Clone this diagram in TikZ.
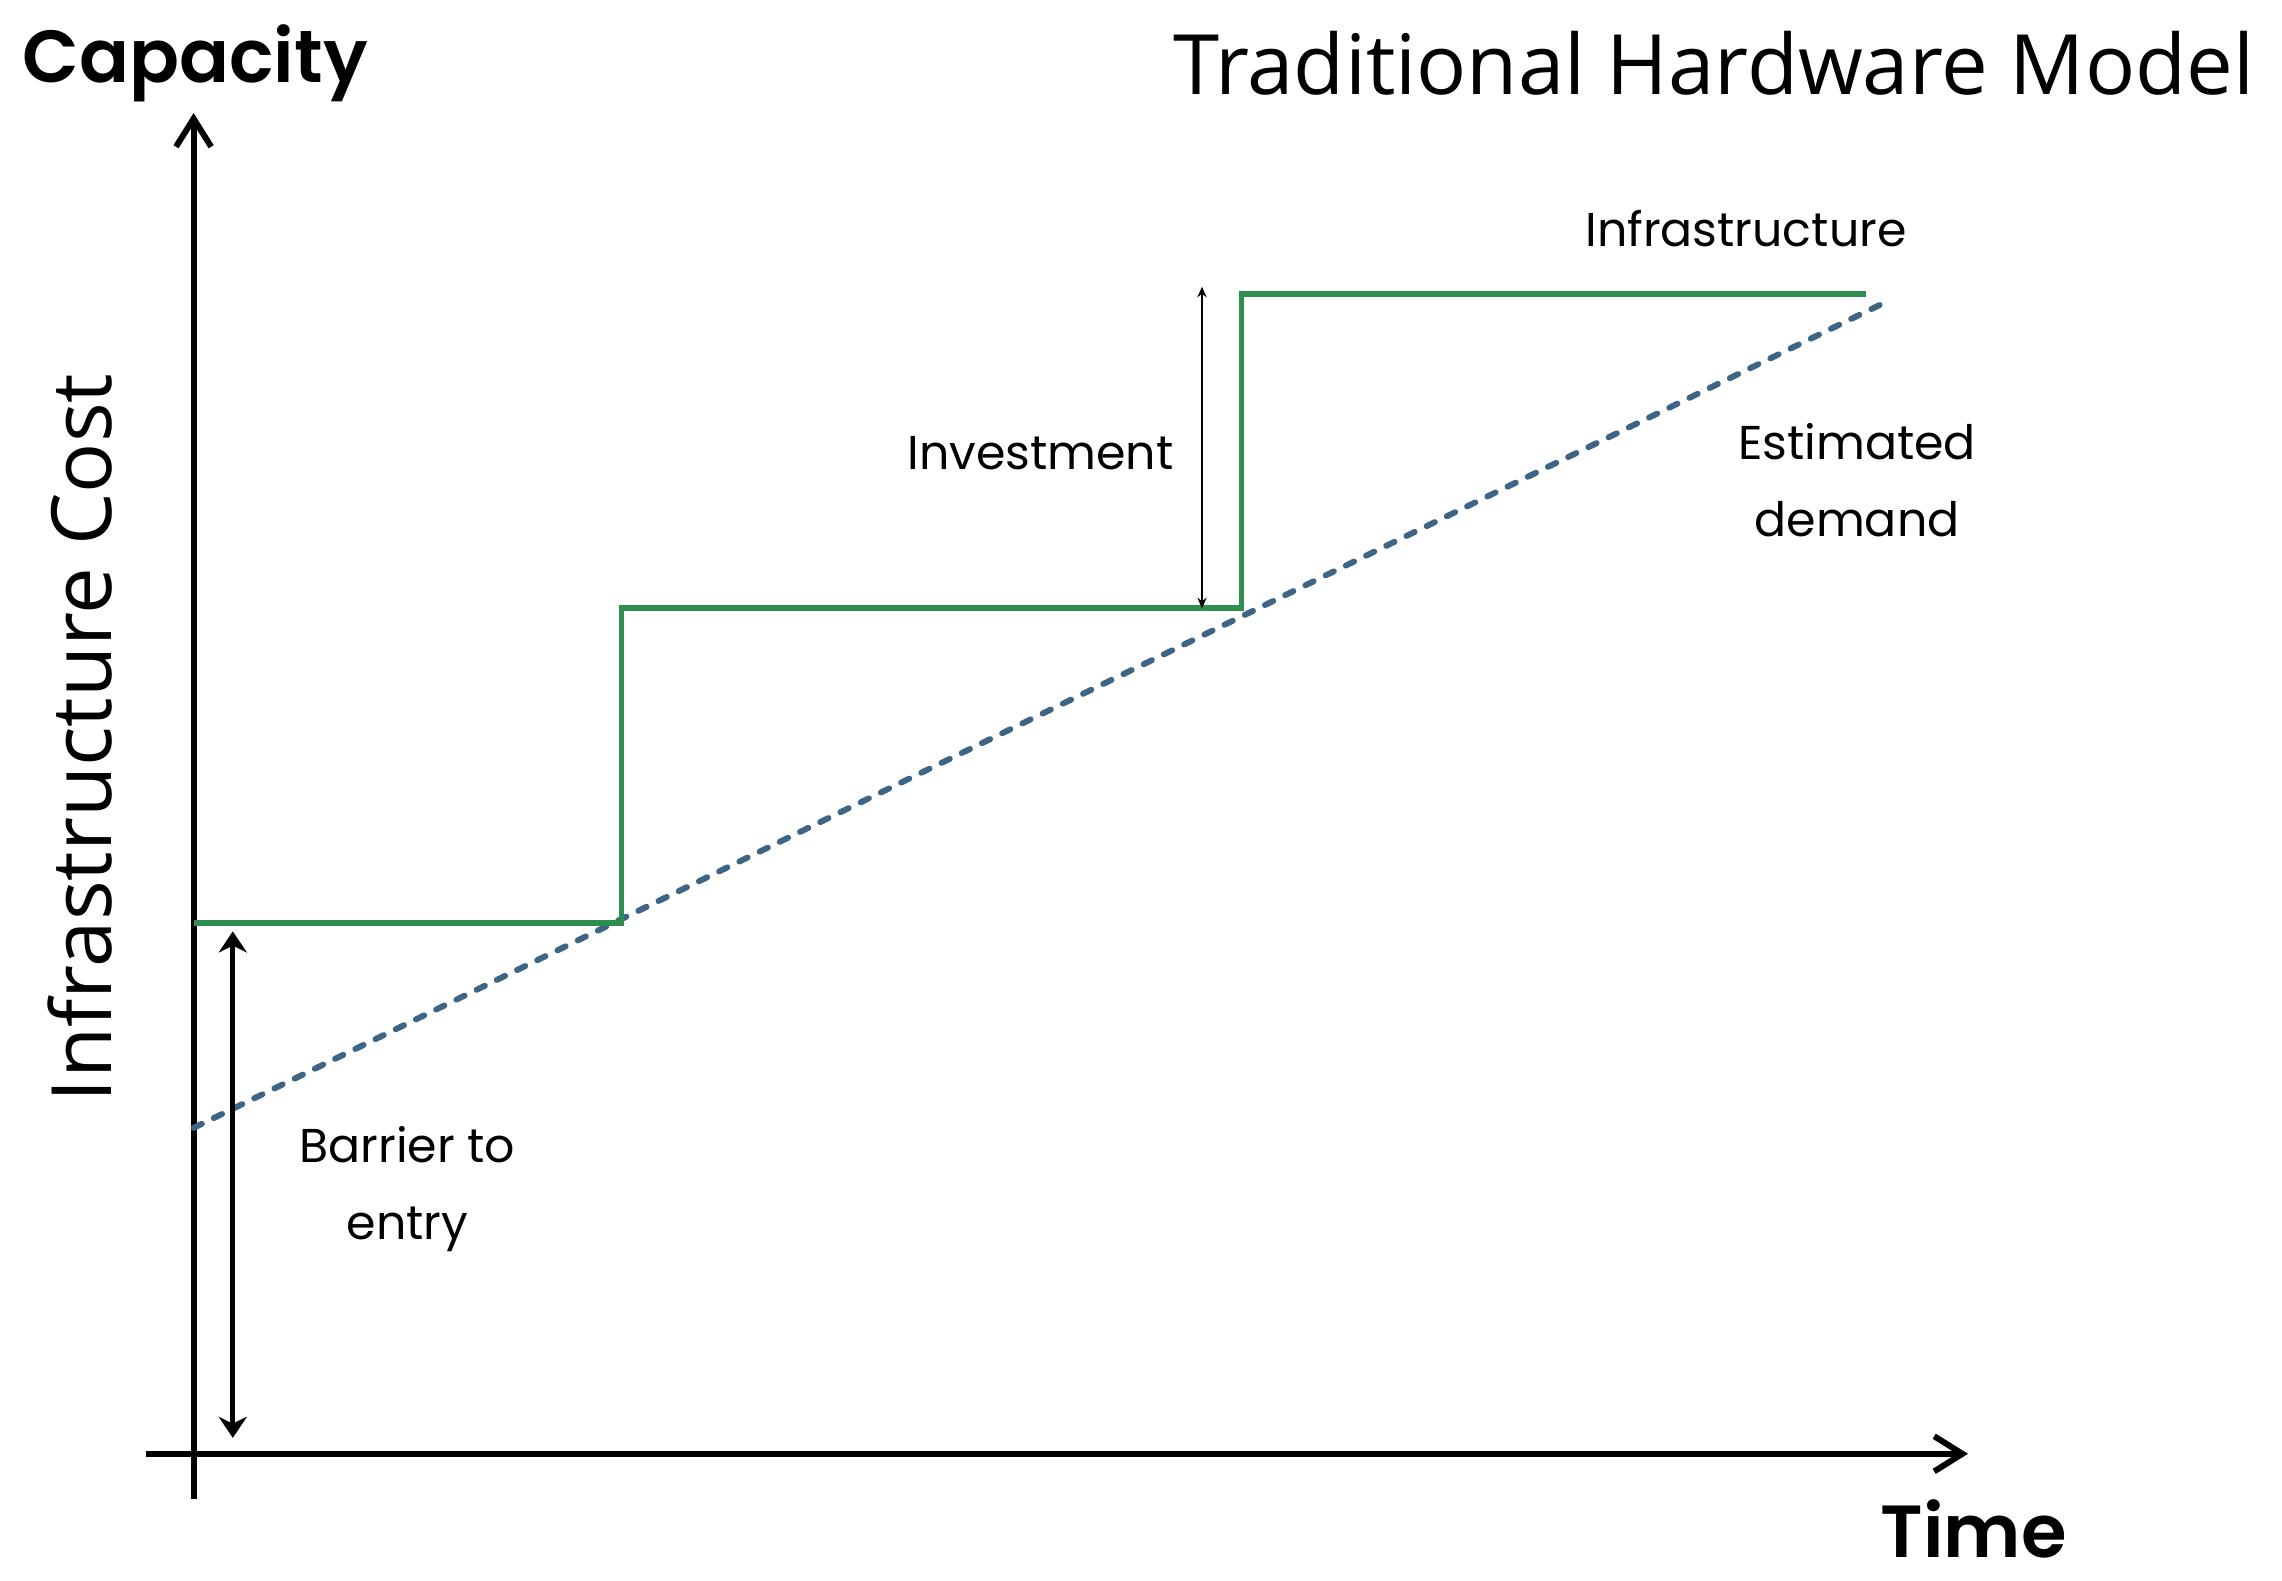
\documentclass[tikz,border=0pt]{standalone}
\usepackage{fontspec}
\usetikzlibrary{arrows.meta}
\newfontfamily\futfont{Poppins}[BoldFont={Poppins SemiBold}]
\newfontfamily\myrfont{Open Sans}
\definecolor{capgreen}{RGB}{46,142,80}
\definecolor{demblue}{RGB}{62,100,134}
\tikzset{
  axis/.style={line width=1.7pt,-{Straight Barb[length=8pt,width=10pt]}},
  infra/.style={line width=1.6pt,capgreen},
  demand/.style={line width=1.7pt,demblue,line cap=round,dash pattern=on 2.6pt off 3.8pt},
  barrier/.style={line width=1.5pt,{Stealth[length=6pt,width=8pt]}-{Stealth[length=6pt,width=8pt]}},
  invest/.style={line width=0.5pt,{Stealth[length=3pt,width=2.6pt]}-{Stealth[length=3pt,width=2.6pt]}},
  lbl/.style={font=\futfont\fontsize{13.5}{22}\selectfont,align=center,inner sep=0pt},
  big/.style={font=\futfont\bfseries\fontsize{21}{25}\selectfont,inner sep=0pt},
  head/.style={font=\myrfont\fontsize{23.7}{28}\selectfont,inner sep=0pt}
}
\begin{document}
\begin{tikzpicture}
\useasboundingbox (0,0) rectangle (22.82,15.81);
%axes
\coordinate (ybot) at (1.936,0.82);
\coordinate (ytop) at (1.936,14.68);
\coordinate (xbeg) at (1.455,1.272);
\coordinate (xend) at (19.68,1.272);
\draw[axis] (ybot)--(ytop);
\draw[axis] (xbeg)--(xend);
\node[big,anchor=base west] (cap) at (0.22,14.98) {Capacity};
\node[big,anchor=base west] (time) at (18.8,0.24) {Time};
\node[head,anchor=base east] (title) at (22.55,14.86) {Traditional Hardware Model};
\node[head,rotate=90] (cost) at (0.80,8.43) {Infrastructure Cost};
%demand
\coordinate (d0) at (1.936,4.531);
\coordinate (d1) at (18.875,12.798);
\draw[demand] (d0)--(d1);
%capacity steps
\coordinate (s0) at (1.936,6.583);
\coordinate (s1) at (6.214,9.727);
\coordinate (s2) at (12.414,12.87);
\coordinate (s3) at (18.657,12.87);
\draw[infra] (s0)-|(s1)-|(s2)--(s3);
%arrows
\coordinate (b0) at (2.328,6.496);
\coordinate (b1) at (2.328,1.431);
\draw[barrier] (b0)--(b1);
\coordinate (i0) at (12.02,12.943);
\coordinate (i1) at (12.02,9.727);
\draw[invest] (i0)--(i1);
%labels
\node[lbl] (inv) at (10.405,11.28) {Investment};
\node[lbl] (inf) at (17.46,13.52) {Infrastructure};
\node[lbl] (est) at (18.57,11.01) {Estimated\\demand};
\node[lbl] (bar) at (4.075,3.92) {Barrier to\\entry};
\end{tikzpicture}
\end{document}
